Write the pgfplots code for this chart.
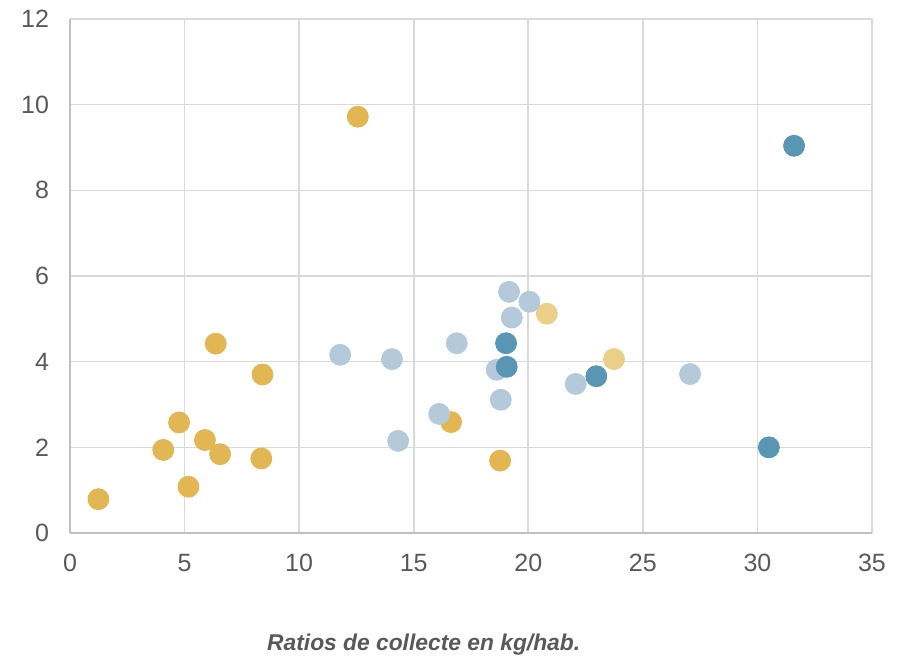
\documentclass[border=0pt]{standalone}
\usepackage{pgfplots}
\pgfplotsset{compat=1.18}
\usepackage{fontspec}
\setmainfont{Liberation Sans}
\definecolor{gold}{RGB}{226,182,82}
\definecolor{lgold}{RGB}{235,206,135}
\definecolor{lblue}{RGB}{180,202,218}
\definecolor{dblue}{RGB}{88,150,180}
\definecolor{gridc}{RGB}{217,217,217}
\definecolor{axc}{RGB}{191,191,191}
\definecolor{txt}{RGB}{89,89,89}
\begin{document}
\begin{tikzpicture}
\path[use as bounding box] (-35pt,-63.5pt) rectangle (416pt,266.5pt);
\begin{axis}[
  at={(0,0)}, anchor=south west,
  width=401pt, height=257pt, scale only axis,
  xmin=0, xmax=35, ymin=0, ymax=12,
  xtick={0,5,...,35}, ytick={0,2,...,12},
  grid=major,
  major grid style={gridc, line width=0.8pt},
  axis line style={draw=none},
  major tick length=0pt,
  tick label style={font=\fontsize{12.5}{14}\selectfont, text=txt},
  /pgf/number format/assume math mode=true,
  xticklabel style={yshift=-7pt},
  yticklabel style={xshift=-7pt},
  xlabel={\textbf{\textit{Ratios de collecte en kg/hab.}}},
  xlabel style={font=\fontsize{11.4}{13}\selectfont, text=txt, at={(axis description cs:0.441,0)}, anchor=center, yshift=-56pt},
  clip=false,
]
\draw[gridc, line width=0.8pt] (axis cs:35,0) -- (axis cs:35,12);
\draw[gridc, line width=0.8pt] (axis cs:0,12) -- (axis cs:35,12);
\draw[axc, line width=0.9pt] (axis cs:0,0) -- (axis cs:0,12);
\draw[axc, line width=0.9pt] (axis cs:0,0) -- (axis cs:35,0);
% gold
\addplot[only marks, mark=*, mark size=5.25pt, color=gold] coordinates {
(1.24,0.79) (4.07,1.94) (4.76,2.58) (5.17,1.08) (5.89,2.17) (6.36,4.42)
(6.55,1.84) (8.40,3.70) (8.35,1.74) (12.56,9.72) (16.63,2.59) (18.77,1.69)
};
% light gold
\addplot[only marks, mark=*, mark size=5.25pt, color=lgold] coordinates {
(20.81,5.12) (23.74,4.06)
};
% light blue
\addplot[only marks, mark=*, mark size=5.25pt, color=lblue] coordinates {
(11.79,4.16) (14.05,4.06) (14.32,2.15) (16.11,2.78) (16.88,4.43) (18.62,3.81)
(18.80,3.11) (19.16,5.63) (19.28,5.03) (20.05,5.40) (22.07,3.48) (27.06,3.71)
};
% dark blue
\addplot[only marks, mark=*, mark size=5.25pt, color=dblue] coordinates {
(19.03,4.43) (19.06,3.88) (22.97,3.66) (30.50,2.00) (31.60,9.04)
};
\end{axis}
\end{tikzpicture}
\end{document}
